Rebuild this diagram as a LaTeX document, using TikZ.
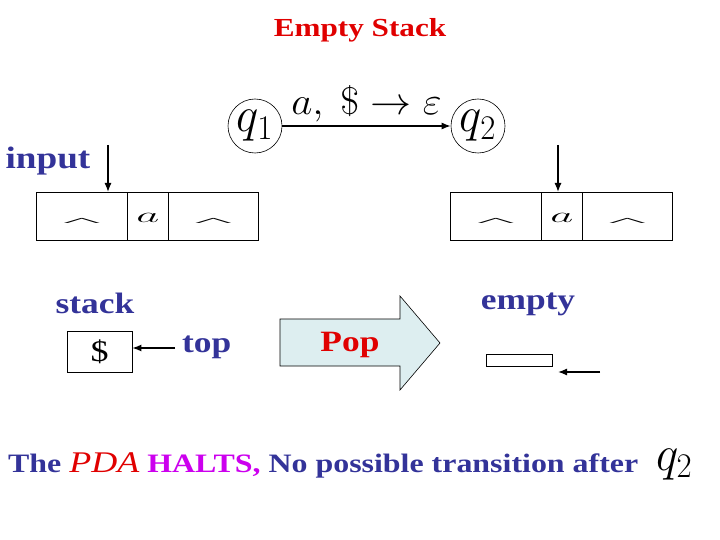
\documentclass[tikz,border=0pt]{standalone}
\usepackage{fontspec}
\usepackage{graphicx}
\setmainfont{Liberation Serif}
\usetikzlibrary{arrows.meta}
\definecolor{dblue}{HTML}{333399}
\definecolor{dred}{HTML}{E00000}
\definecolor{mag}{HTML}{CC00EE}
\definecolor{popfill}{HTML}{DDEEF0}
\newcommand{\sx}[1]{\scalebox{1.2}[1]{#1}}
\newcommand{\fs}[1]{\fontsize{#1}{#1}\selectfont}
\newcommand{\bigq}[1]{\fs{24}\scalebox{1.9}[2.0]{$q_#1$}}
\begin{document}
\begin{tikzpicture}[x=1pt,y=-1pt,
  lbl/.style={inner sep=0pt, text=dblue, font=\bfseries\fs{29.5}},
  arr/.style={line width=1.3pt, -{Latex[length=9pt,width=7pt]}},
  cell/.style={draw, line width=0.8pt, minimum height=48pt, inner sep=0pt, anchor=north west},
  state/.style={draw, circle, line width=0.6pt, minimum size=54pt, inner sep=0pt},
  hatsym/.style={inner sep=0pt},
]
\useasboundingbox (0,0) rectangle (720,540);

% title
\node[inner sep=0pt, text=dred, font=\bfseries\fs{26}] (title) at (360,30) {\sx{Empty Stack}};

% states
\node[state] (q1) at (255,126) {};
\node[inner sep=0pt] (q1t) at (q1.center) {\bigq{1}};
\node[state] (q2) at (478,126) {};
\node[inner sep=0pt] (q2t) at (q2.center) {\bigq{2}};
\draw[line width=1.3pt, -{Latex[length=9pt,width=7pt]}] (q1) -- node[above=3pt, inner sep=0pt] (lab) {\fs{24}\scalebox{1.65}[1.55]{$a,\ \$\rightarrow\varepsilon$}} (q2);

% input label
\node[lbl, font=\bfseries\fs{31}] (inp) at (48,161) {\sx{input}};

% left tape
\node[cell, minimum width=91pt] (l1) at (36,192) {};
\node[cell, minimum width=41pt] (l2) at (127,192) {};
\node[cell, minimum width=90pt] (l3) at (168,192) {};
\node[hatsym] (lh1) at ([yshift=-6pt]l1.center) {\scalebox{4.5}[0.6]{\fs{18}\textasciicircum}};
\node[inner sep=0pt] (la) at ([yshift=-2pt]l2.center) {\fs{24}\scalebox{1.8}[0.85]{$a$}};
\node[hatsym] (lh3) at ([yshift=-6pt]l3.center) {\scalebox{4.5}[0.6]{\fs{18}\textasciicircum}};
\coordinate (lin) at (108,145);
\draw[arr] (lin) -- (lin |- l1.north);

% right tape
\node[cell, minimum width=91pt] (r1) at (450,192) {};
\node[cell, minimum width=41pt] (r2) at (541,192) {};
\node[cell, minimum width=90pt] (r3) at (582,192) {};
\node[hatsym] (rh1) at ([yshift=-6pt]r1.center) {\scalebox{4.5}[0.6]{\fs{18}\textasciicircum}};
\node[inner sep=0pt] (ra) at ([yshift=-2pt]r2.center) {\fs{24}\scalebox{1.8}[0.85]{$a$}};
\node[hatsym] (rh3) at ([yshift=-6pt]r3.center) {\scalebox{4.5}[0.6]{\fs{18}\textasciicircum}};
\coordinate (rin) at (558,145);
\draw[arr] (rin) -- (rin |- r2.north);

% stack
\node[lbl] (stk) at (95,303) {\sx{stack}};
\node[draw, line width=0.8pt, minimum width=65pt, minimum height=41pt, inner sep=0pt] (dol) at (99.5,351.5) {\fs{30}\sx{\$}};
\node[lbl, anchor=west] (top) at (182,347) {\sx{top}};
\draw[arr] (top.west) ++(-7,1) coordinate (tops) (tops) -- (dol.east |- tops);

% pop arrow
\draw[line width=0.6pt, fill=popfill] (280,319) -- (400,319) -- (400,296) -- (440,343) -- (400,390) -- (400,366) -- (280,366) -- cycle;
\node[inner sep=0pt, text=dred, font=\bfseries\fs{29.5}] (pop) at (350,345) {\sx{Pop}};

% empty
\node[lbl] (emp) at (528,304) {\sx{empty}};
\node[draw, line width=0.8pt, minimum width=66pt, minimum height=12pt, inner sep=0pt] (ebox) at (519,360) {};
\coordinate (es) at (600,372);
\draw[arr] (es) -- (558,372);

% bottom line
\node[inner sep=0pt, anchor=base west, text=dblue, font=\bfseries\fs{26.6}] (halt) at (8,472)
  {\sx{The {\color{dred}\normalfont\itshape\fs{30}PDA} {\color{mag}HALTS,} No possible transition after}};
\node[inner sep=0pt, anchor=base west] (q2b) at (656,470) {\bigq{2}};
\end{tikzpicture}
\end{document}
